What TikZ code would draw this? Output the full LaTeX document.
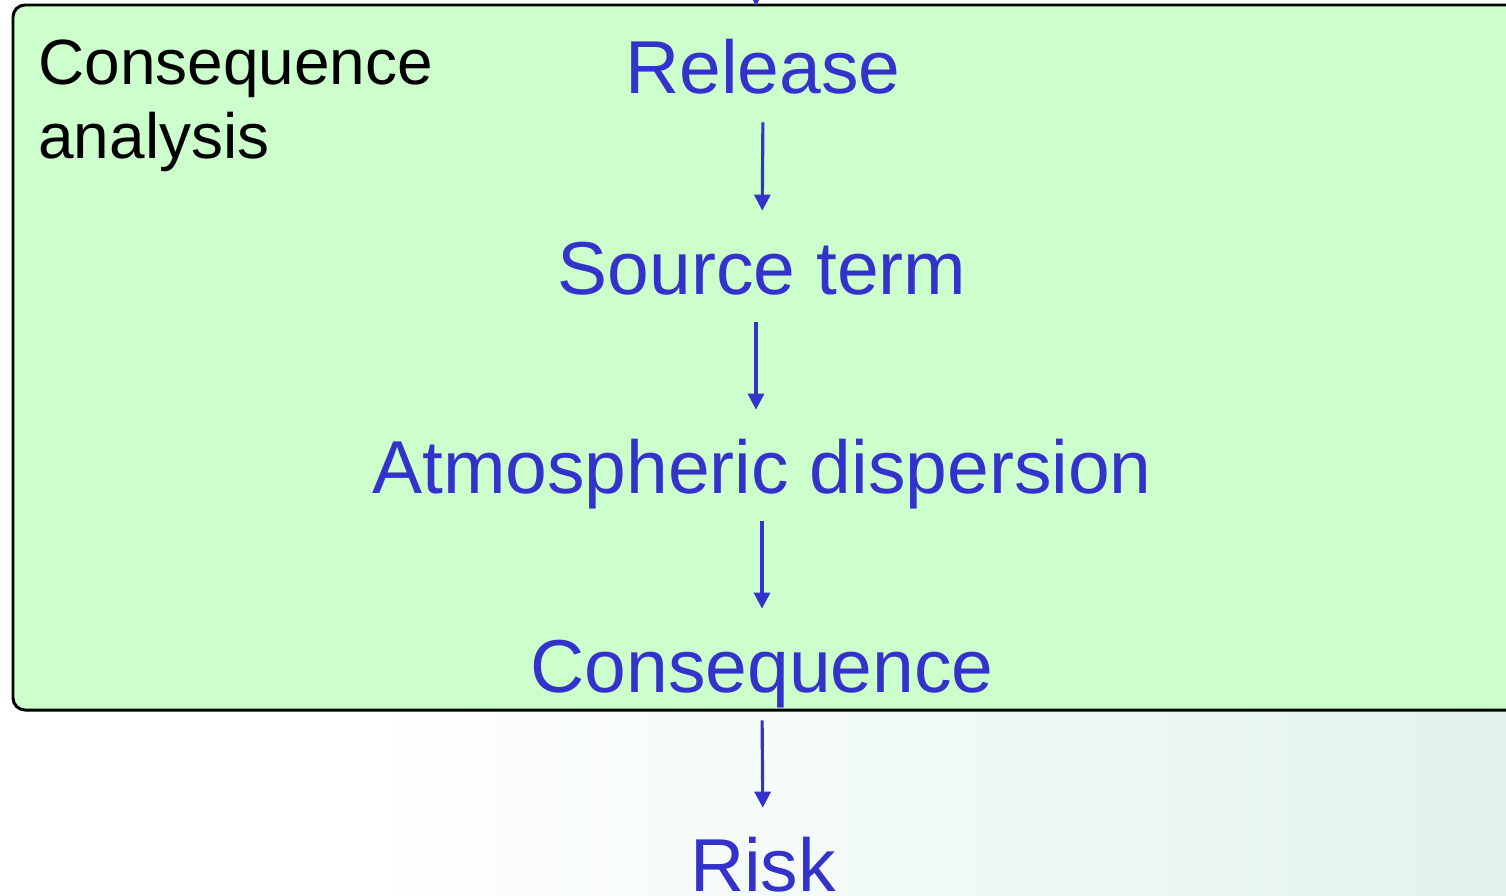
\documentclass[tikz,border=0pt]{standalone}
\usepackage{fontspec}
\setmainfont{Liberation Sans}
\usetikzlibrary{arrows.meta}
\definecolor{stepblue}{RGB}{51,51,204}
\definecolor{boxgreen}{RGB}{204,255,204}
\definecolor{mottle}{RGB}{226,243,236}
\begin{document}
\begin{tikzpicture}[x=0.02cm, y=-0.02cm,
    stage/.style={inner sep=0pt, anchor=base, text=stepblue,
      font=\fontsize{42.7pt}{46pt}\selectfont,
      text height=1.08cm, text depth=0.32cm},
    flow/.style={draw=stepblue, line width=1.8pt,
      -{Triangle[length=0.32cm, width=0.32cm]},
      shorten <=0.24cm, shorten >=0.58cm}]
  \useasboundingbox (0, 0) rectangle (1506, 895);
  \clip (0, 0) rectangle (1506, 895);
  \fill[white] (0, 0) rectangle (1506, 895);
  \shade[left color=white, right color=mottle] (350, 700) rectangle (1506, 895);
  % consequence analysis box
  \draw[fill=boxgreen, line width=1.7pt, rounded corners=0.24cm] (13, 5) rectangle (1560, 710);
  \node[inner sep=0pt, anchor=north west, align=left,
    font=\fontsize{36.4pt}{42.5pt}\selectfont] (title) at (38, 39)
    {Consequence\\analysis};
  % chain of stages
  \node[stage] (release) at (763, 94) {Release};
  \node[stage] (source) at (762, 294) {Source term};
  \node[stage] (disp) at (762, 493) {Atmospheric dispersion};
  \node[stage] (cons) at (762, 692) {Consequence};
  \node[stage] (risk) at (763, 891) {Risk};
  \coordinate (entry) at (756, -60);
  \coordinate (boxtop) at (756, 6);
  \draw[flow, shorten <=0pt, shorten >=0pt] (entry) -- (boxtop);
  \draw[flow] (release.south) -- (source.north);
  \draw[flow] ([xshift=-0.12cm]source.south) -- ([xshift=-0.12cm]disp.north);
  \draw[flow] (disp.south) -- (cons.north);
  \draw[flow] (cons.south) -- (risk.north);
\end{tikzpicture}
\end{document}
